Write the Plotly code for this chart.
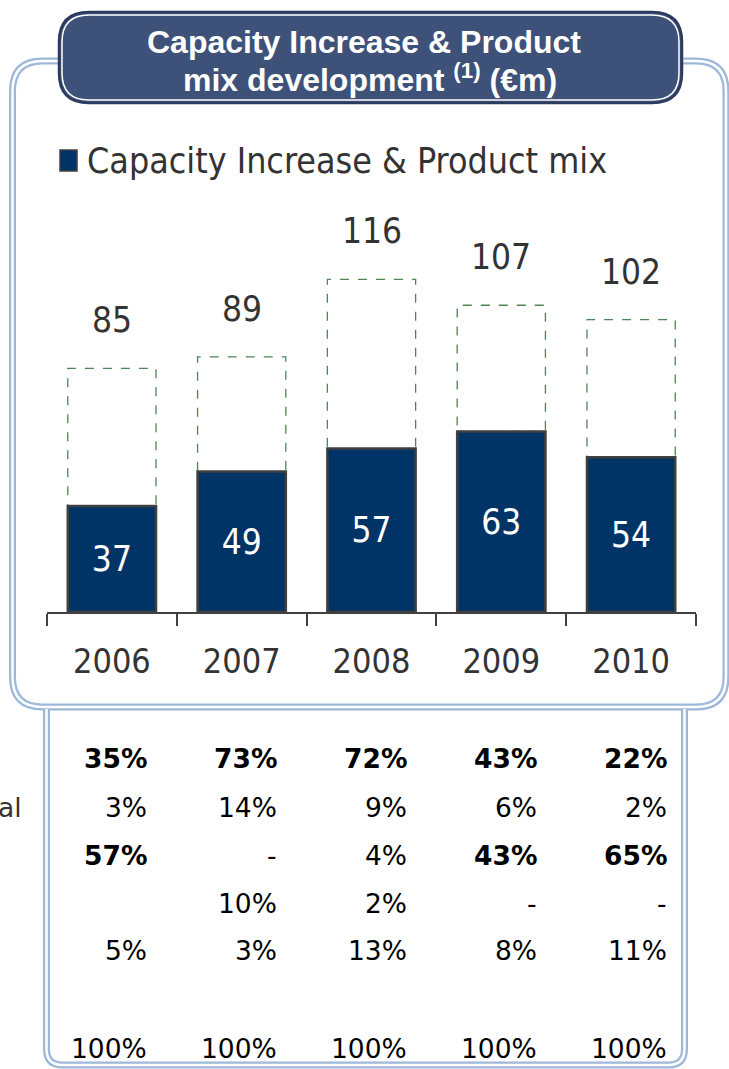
import plotly.graph_objects as go

W, H = 729, 1069

# ---------------- data ----------------
years = ["2006", "2007", "2008", "2009", "2010"]
capacity_product_mix = [37, 49, 57, 63, 54]
totals = [85, 89, 116, 107, 102]

row_1 = ["35%", "73%", "72%", "43%", "22%"]
row_1_bold = [True, True, True, True, True]
row_2 = ["3%", "14%", "9%", "6%", "2%"]
row_2_bold = [False, False, False, False, False]
row_3 = ["57%", "-", "4%", "43%", "65%"]
row_3_bold = [True, False, False, True, True]
row_4 = ["", "10%", "2%", "-", "-"]
row_4_bold = [False, False, False, False, False]
row_5 = ["5%", "3%", "13%", "8%", "11%"]
row_5_bold = [False, False, False, False, False]
row_total = ["100%", "100%", "100%", "100%", "100%"]
row_total_bold = [False, False, False, False, False]

# ---------------- styling ----------------
NAVY = "#003366"
OUTLINE = "#404040"
TXT = "#333333"
FRAME = "#9db8d9"
TITLE_FILL = "#3e5179"
FONT = "DejaVu Sans Condensed, DejaVu Sans, sans-serif"
TABLE_FONT = "DejaVu Sans, Verdana, sans-serif"
TITLE_FONT = "Liberation Sans, Arial, sans-serif"
BAR_W = 0.68


def P(x, y):
    return f"{x / W:.5f},{1 - y / H:.5f}"


def rounded(x0, y0, x1, y1, r):
    return (f"M{P(x0 + r, y0)} L{P(x1 - r, y0)} Q{P(x1, y0)} {P(x1, y0 + r)} "
            f"L{P(x1, y1 - r)} Q{P(x1, y1)} {P(x1 - r, y1)} L{P(x0 + r, y1)} "
            f"Q{P(x0, y1)} {P(x0, y1 - r)} L{P(x0, y0 + r)} Q{P(x0, y0)} {P(x0 + r, y0)} Z")


def open_bottom(x0, y0, x1, y1, r):
    return (f"M{P(x0, y0)} L{P(x0, y1 - r)} Q{P(x0, y1)} {P(x0 + r, y1)} "
            f"L{P(x1 - r, y1)} Q{P(x1, y1)} {P(x1, y1 - r)} L{P(x1, y0)}")


fig = go.Figure()
fig.add_trace(go.Bar(
    x=years, y=capacity_product_mix, width=BAR_W,
    marker=dict(color=NAVY, line=dict(color=OUTLINE, width=2.5)),
    text=[str(v) for v in capacity_product_mix], textposition="inside",
    insidetextanchor="middle", textangle=0,
    textfont=dict(family=FONT, size=35, color="white"),
    name="Capacity Increase & Product mix", showlegend=False, hoverinfo="skip",
))

shapes = []
# dashed total boxes
for i, (v, t) in enumerate(zip(capacity_product_mix, totals)):
    shapes.append(dict(type="rect", xref="x", yref="y", x0=i - BAR_W / 2, x1=i + BAR_W / 2,
                       y0=v, y1=t, layer="below",
                       line=dict(color="#4f8455", width=1.3, dash="dash")))

# upper frame (double line)
up = rounded(12.5, 61, 726, 707, 30)
shapes.append(dict(type="path", xref="paper", yref="paper", path=up, line=dict(color=FRAME, width=7)))
shapes.append(dict(type="path", xref="paper", yref="paper", path=up, line=dict(color="white", width=2.5)))
# lower frame
lo = open_bottom(46.5, 709, 684.5, 1065, 16)
shapes.append(dict(type="path", xref="paper", yref="paper", path=lo, line=dict(color=FRAME, width=7)))
shapes.append(dict(type="path", xref="paper", yref="paper", path=lo, line=dict(color="white", width=2.5)))
# title box
shapes.append(dict(type="path", xref="paper", yref="paper", path=rounded(59, 12, 682, 103, 30),
                   fillcolor=TITLE_FILL, line=dict(color="#2b3b5e", width=2.5)))
shapes.append(dict(type="path", xref="paper", yref="paper", path=rounded(62, 15, 679, 100, 27),
                   line=dict(color="white", width=1.5)))
# legend swatch
shapes.append(dict(type="rect", xref="paper", yref="paper", x0=60 / W, x1=77 / W,
                   y0=1 - 171 / H, y1=1 - 150 / H, fillcolor=NAVY, line=dict(color=OUTLINE, width=1.5)))

annotations = []
annotations.append(dict(xref="paper", yref="paper", x=364 / W, y=1 - 42 / H,
                        xanchor="center", yanchor="middle", showarrow=False,
                        text="<b>Capacity Increase & Product</b>",
                        font=dict(family=TITLE_FONT, size=32, color="white")))
annotations.append(dict(xref="paper", yref="paper", x=370 / W, y=1 - 78 / H,
                        xanchor="center", yanchor="middle", showarrow=False,
                        text="<b>mix development <sup>(1)</sup> (€m)</b>",
                        font=dict(family=TITLE_FONT, size=32, color="white")))
annotations.append(dict(xref="paper", yref="paper", x=85 / W, y=1 - 160 / H,
                        xanchor="left", yanchor="middle",
                        showarrow=False, text="Capacity Increase & Product mix",
                        font=dict(family=FONT, size=35.5, color=TXT)))
for i, t in enumerate(totals):
    annotations.append(dict(xref="x", yref="y", x=i, y=t, yshift=48, showarrow=False,
                            xanchor="center", yanchor="middle",
                            text=str(t), font=dict(family=FONT, size=35, color=TXT)))

rows = [(row_1, row_1_bold, 758), (row_2, row_2_bold, 807), (row_3, row_3_bold, 855),
        (row_4, row_4_bold, 903), (row_5, row_5_bold, 950), (row_total, row_total_bold, 1048)]
for vals, bolds, ypix in rows:
    for i, (v, b) in enumerate(zip(vals, bolds)):
        if not v:
            continue
        annotations.append(dict(xref="x", yref="paper", x=i, xshift=37.5, xanchor="right",
                                y=1 - ypix / H, yanchor="middle", showarrow=False,
                                text=f"<b>{v}</b>" if b else v,
                                font=dict(family=TABLE_FONT, size=26.5, color="black")))
annotations.append(dict(xref="paper", yref="paper", x=-4 / W, y=1 - 807 / H, xanchor="left",
                        yanchor="middle", showarrow=False, text="al",
                        font=dict(family=TABLE_FONT, size=26.5, color=TXT)))

fig.update_layout(
    width=W, height=H, margin=dict(l=0, r=0, t=0, b=0, autoexpand=False),
    paper_bgcolor="white", plot_bgcolor="rgba(0,0,0,0)",
    shapes=shapes, annotations=annotations, showlegend=False,
    xaxis=dict(type="category", domain=[47 / W, 696 / W], range=[-0.5, len(years) - 0.5],
               autorange=False, showline=True, linecolor=OUTLINE,
               linewidth=2, ticks="outside", tickson="boundaries", ticklen=12, tickwidth=2,
               tickcolor=OUTLINE, showgrid=False, zeroline=False, ticklabelstandoff=18,
               tickangle=0, automargin=False,
               tickfont=dict(family=FONT, size=34, color=TXT)),
    yaxis=dict(domain=[1 - 612 / H, 1 - 182 / H], range=[0, 150], visible=False),
)

fig.write_html("out.html", config={"displayModeBar": False},
               post_script="document.body.style.margin='0px';document.body.style.overflow='hidden';")
